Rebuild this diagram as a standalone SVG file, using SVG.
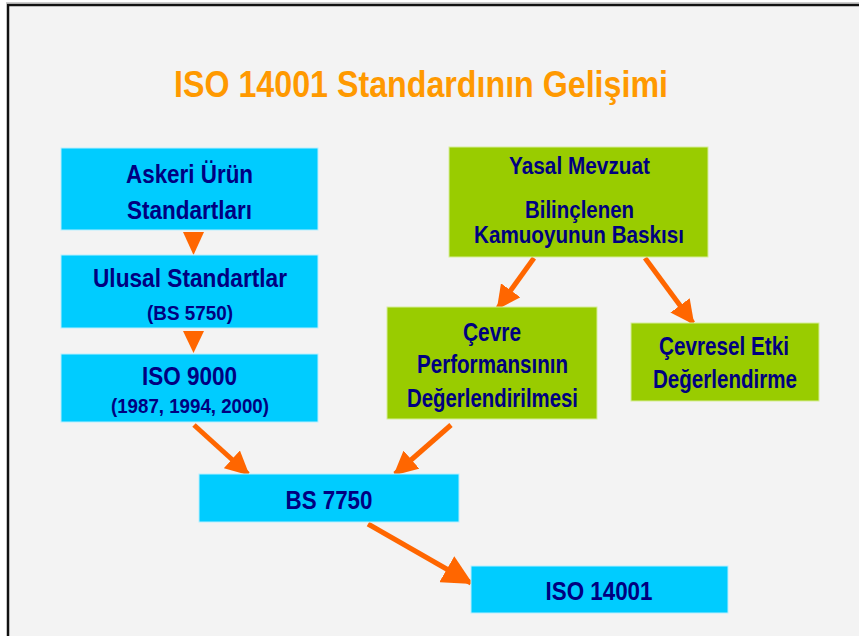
<svg xmlns="http://www.w3.org/2000/svg" width="859" height="636" viewBox="0 0 859 636">
<style>
.bg{fill:#f3f3f3}
.blue{fill:#00ccff;stroke:#b8efff;stroke-width:1}
.green{fill:#99cc00;stroke:#d6ee99;stroke-width:1}
.t{font-family:"Liberation Sans",Arial,sans-serif;font-weight:bold;fill:#000080;text-anchor:middle}
.l{font-size:25.5px}
.m{font-size:23px}
.s{font-size:20px}
.title{font-family:"Liberation Sans",Arial,sans-serif;font-weight:bold;fill:#ff9900;font-size:36px;text-anchor:middle}
.arr{stroke:#ff6600;stroke-width:5;fill:none}
.tri{fill:#ff6600}
</style>
<defs>
<marker id="ah" markerUnits="userSpaceOnUse" markerWidth="24" markerHeight="24" viewBox="0 0 22 22" refX="20" refY="11" orient="auto">
<path d="M0,0 L22,11 L0,22 Z" fill="#ff6600"/>
</marker>
<marker id="ahb" markerUnits="userSpaceOnUse" markerWidth="30" markerHeight="30" viewBox="0 0 28 28" refX="26" refY="14" orient="auto">
<path d="M0,0 L28,14 L0,28 Z" fill="#ff6600"/>
</marker>
</defs>
<rect width="859" height="636" fill="#ffffff"/>
<rect x="8" y="5" width="860" height="640" class="bg"/>
<path d="M8,636 V5 H859" fill="none" stroke="#111" stroke-width="2.5"/>
<path d="M6,3 H859" fill="none" stroke="#999" stroke-width="1"/>

<text class="title" x="421" y="97" textLength="494" lengthAdjust="spacingAndGlyphs">ISO 14001 Standardının Gelişimi</text>

<g id="connectors">
<polygon class="tri" points="183,232 204,232 193.5,255"/>
<polygon class="tri" points="183,331 204,331 193.5,353"/>
<line class="arr" x1="194" y1="425" x2="248" y2="474" marker-end="url(#ah)"/>
<line class="arr" x1="451" y1="425" x2="395" y2="474" marker-end="url(#ah)"/>
<line class="arr" x1="534" y1="258" x2="498" y2="308" marker-end="url(#ah)"/>
<line class="arr" x1="645" y1="258" x2="693" y2="323" marker-end="url(#ah)"/>
<line class="arr" x1="368" y1="524" x2="471" y2="583" stroke-width="8" marker-end="url(#ahb)"/>
</g>

<g id="askeri">
<rect class="blue" x="61" y="148" width="257" height="82"/>
<text class="t l" x="189.5" y="183" textLength="127" lengthAdjust="spacingAndGlyphs">Askeri Ürün</text>
<text class="t l" x="189.5" y="219" textLength="125" lengthAdjust="spacingAndGlyphs">Standartları</text>
</g>
<g id="ulusal">
<rect class="blue" x="61" y="255" width="257" height="73"/>
<text class="t l" x="190" y="287" textLength="194" lengthAdjust="spacingAndGlyphs">Ulusal Standartlar</text>
<text class="t s" x="190" y="320" textLength="86" lengthAdjust="spacingAndGlyphs">(BS 5750)</text>
</g>
<g id="iso9000">
<rect class="blue" x="61" y="354" width="257" height="68"/>
<text class="t l" x="189.5" y="385" textLength="95" lengthAdjust="spacingAndGlyphs">ISO 9000</text>
<text class="t s" x="190" y="413" textLength="158" lengthAdjust="spacingAndGlyphs">(1987, 1994, 2000)</text>
</g>
<g id="yasal">
<rect class="green" x="449" y="147" width="259" height="110"/>
<text class="t m" x="579.5" y="174" textLength="141" lengthAdjust="spacingAndGlyphs">Yasal Mevzuat</text>
<text class="t m" x="579.5" y="218" textLength="109" lengthAdjust="spacingAndGlyphs">Bilinçlenen</text>
<text class="t m" x="579" y="243" textLength="210" lengthAdjust="spacingAndGlyphs">Kamuoyunun Baskısı</text>
</g>
<g id="cevre">
<rect class="green" x="387" y="307" width="210" height="112"/>
<text class="t l" x="492" y="341" textLength="58" lengthAdjust="spacingAndGlyphs">Çevre</text>
<text class="t l" x="492.5" y="373" textLength="151" lengthAdjust="spacingAndGlyphs">Performansının</text>
<text class="t l" x="492.5" y="407" textLength="171" lengthAdjust="spacingAndGlyphs">Değerlendirilmesi</text>
</g>
<g id="cevresel">
<rect class="green" x="631" y="323" width="188" height="78"/>
<text class="t l" x="724" y="355" textLength="130" lengthAdjust="spacingAndGlyphs">Çevresel Etki</text>
<text class="t l" x="725" y="388" textLength="144" lengthAdjust="spacingAndGlyphs">Değerlendirme</text>
</g>
<g id="bs7750">
<rect class="blue" x="199" y="474" width="260" height="48"/>
<text class="t l" x="329" y="509" textLength="87" lengthAdjust="spacingAndGlyphs">BS 7750</text>
</g>
<g id="iso14001">
<rect class="blue" x="471" y="566" width="257" height="47"/>
<text class="t l" x="599" y="600" textLength="107" lengthAdjust="spacingAndGlyphs">ISO 14001</text>
</g>
</svg>
